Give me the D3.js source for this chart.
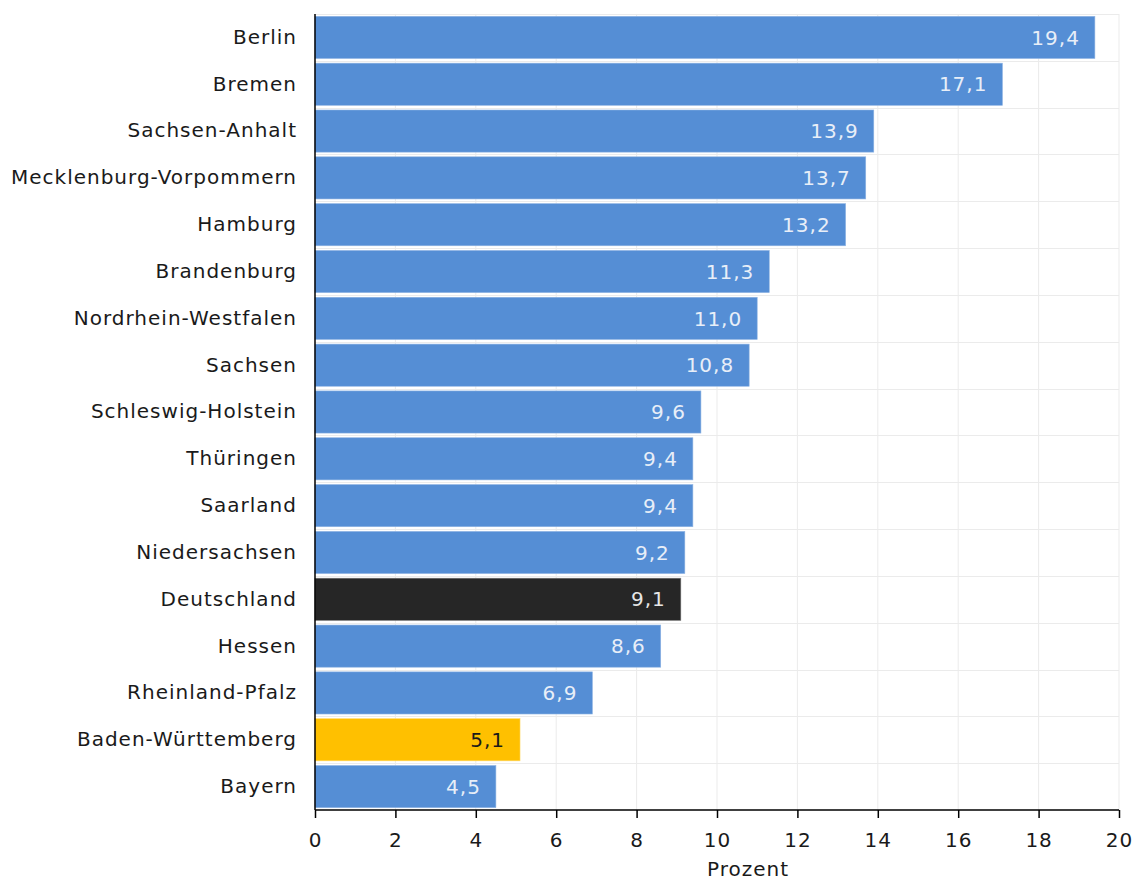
<!DOCTYPE html>
<html>
<head>
<meta charset="utf-8">
<script src="https://cdn.jsdelivr.net/npm/d3@7"></script>
<style>
  html, body { margin: 0; padding: 0; background: #fff; }
  svg { display: block; font-family: "DejaVu Sans", Verdana, sans-serif; }
</style>
</head>
<body>
<svg id="chart" width="1137" height="882"></svg>
<script>
// Länder, sortiert nach Anteil (Prozent)
const categories = [
  "Berlin", "Bremen", "Sachsen-Anhalt", "Mecklenburg-Vorpommern", "Hamburg",
  "Brandenburg", "Nordrhein-Westfalen", "Sachsen", "Schleswig-Holstein",
  "Thüringen", "Saarland", "Niedersachsen", "Deutschland", "Hessen",
  "Rheinland-Pfalz", "Baden-Württemberg", "Bayern"
];
const values = [19.4, 17.1, 13.9, 13.7, 13.2, 11.3, 11.0, 10.8, 9.6, 9.4, 9.4, 9.2, 9.1, 8.6, 6.9, 5.1, 4.5];
const xTicks = [0, 2, 4, 6, 8, 10, 12, 14, 16, 18, 20];
const axisTitle = "Prozent";

const highlight = { "Deutschland": "#262626", "Baden-Württemberg": "#ffc000" };
const labelColor = { "Deutschland": "#e6e6e6", "Baden-Württemberg": "#1a1a1a" };

const margin = { top: 14, right: 18, bottom: 72, left: 315 };
const width = 1137, height = 882;
const fontSize = 20, spacing = "1px";
const svg = d3.select("#chart");

const x = d3.scaleLinear().domain([0, 20]).range([margin.left, width - margin.right]);
const y = d3.scaleBand().domain(categories)
  .range([margin.top, height - margin.bottom]).paddingInner(0.1).paddingOuter(0.05);

// Gitterlinien
const grid = svg.append("g");
grid.selectAll("line.v").data(xTicks.slice(1)).join("line")
  .attr("x1", d => x(d)).attr("x2", d => x(d))
  .attr("y1", margin.top).attr("y2", height - margin.bottom)
  .attr("stroke", "#ebebeb").attr("stroke-width", 1);
const hLines = d3.range(categories.length).map(i => margin.top + i * y.step());
grid.selectAll("line.h").data(hLines).join("line")
  .attr("x1", margin.left).attr("x2", width - margin.right)
  .attr("y1", d => Math.round(d) + 0.5).attr("y2", d => Math.round(d) + 0.5)
  .attr("stroke", "#ebebeb").attr("stroke-width", 1);

// Balken
svg.append("g").selectAll("rect").data(categories).join("rect")
  .attr("x", x(0))
  .attr("y", d => y(d))
  .attr("width", (d, i) => x(values[i]) - x(0))
  .attr("height", y.bandwidth())
  .attr("fill", d => highlight[d] || "#558ed5")
  .attr("stroke", d => d === "Deutschland" ? "#777" : (d === "Baden-Württemberg" ? "#ffd966" : "#8fb4e3"))
  .attr("stroke-width", 0.6);

// Wertbeschriftungen
svg.append("g").selectAll("text").data(categories).join("text")
  .attr("x", (d, i) => x(values[i]) - 15)
  .attr("y", d => y(d) + y.bandwidth() / 2)
  .attr("dy", "0.36em")
  .attr("text-anchor", "end")
  .attr("font-size", fontSize)
  .attr("letter-spacing", spacing)
  .attr("fill", d => labelColor[d] || "#e8eef8")
  .text((d, i) => d3.format(".1f")(values[i]).replace(".", ","));

// Achsen
const yAxis = svg.append("g").attr("transform", `translate(${margin.left},0)`)
  .call(d3.axisLeft(y).tickSize(0).tickPadding(18));
yAxis.select(".domain").attr("stroke", "#000").attr("stroke-width", 1.5)
  .attr("d", `M0,${margin.top}V${height - margin.bottom}`);
yAxis.selectAll("text").attr("font-size", fontSize).attr("fill", "#1a1a1a")
  .attr("letter-spacing", spacing)
  .attr("font-family", "DejaVu Sans, Verdana, sans-serif");

const xAxis = svg.append("g").attr("transform", `translate(0,${height - margin.bottom})`)
  .call(d3.axisBottom(x).tickValues(xTicks).tickSize(8).tickPadding(15).tickFormat(d3.format("d")));
xAxis.select(".domain").attr("stroke", "#000").attr("stroke-width", 1.5)
  .attr("d", `M${margin.left},0H${width - margin.right}`);
xAxis.selectAll(".tick line").attr("stroke", "#000").attr("stroke-width", 1.5);
xAxis.selectAll("text").attr("font-size", fontSize).attr("fill", "#1a1a1a")
  .attr("letter-spacing", spacing)
  .attr("font-family", "DejaVu Sans, Verdana, sans-serif");

svg.append("text")
  .attr("x", 748).attr("y", height - 6)
  .attr("text-anchor", "middle")
  .attr("font-size", fontSize).attr("fill", "#1a1a1a")
  .attr("letter-spacing", spacing)
  .text(axisTitle);
</script>
</body>
</html>
